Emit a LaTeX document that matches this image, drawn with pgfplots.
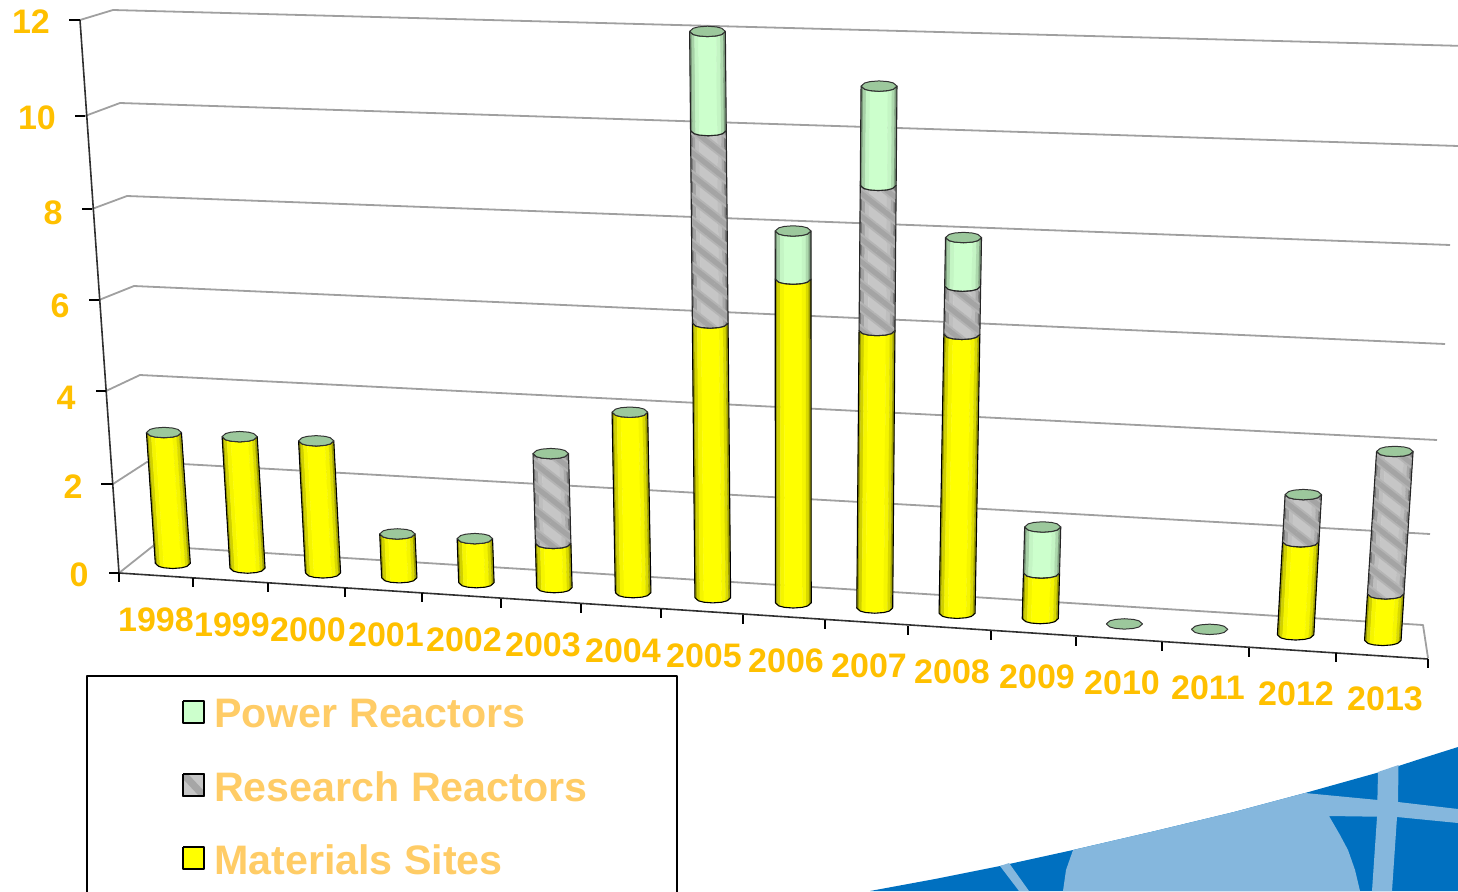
\documentclass[border=0pt]{standalone}
\usepackage{fontspec}
\setmainfont{Liberation Sans}
\usepackage{pgfplots}
\usepackage{pgfplotstable}
\pgfplotsset{compat=1.18}
\usetikzlibrary{patterns.meta}
\definecolor{lab}{HTML}{FFC000}
\definecolor{legt}{HTML}{FFCC66}
\definecolor{grd}{HTML}{A0A0A0}
\definecolor{axc}{HTML}{303030}
\definecolor{ymat}{HTML}{FFFF00}
\definecolor{gpow}{HTML}{CCFFCC}
\definecolor{rres}{HTML}{C6C6C6}
\definecolor{capc}{HTML}{9CC89C}
\definecolor{bluea}{HTML}{0070C0}
\definecolor{blueb}{HTML}{85B7DD}
\definecolor{hatcha}{HTML}{B4B4B4}
\definecolor{hatchb}{HTML}{A4A4A4}

% values per year: Materials Sites, Research Reactors, Power Reactors
\pgfplotstableread{
i year mat res pow
0 1998 3 0 0
1 1999 3 0 0
2 2000 3 0 0
3 2001 1 0 0
4 2002 1 0 0
5 2003 1 2 0
6 2004 4 0 0
7 2005 6 4 2
8 2006 7 0 1
9 2007 6 3 2
10 2008 6 1 1
11 2009 1 0 1
12 2010 0 0 0
13 2011 0 0 0
14 2012 2 1 0
15 2013 1 3 0
}\datatab

% strip corners
\pgfplotstableread{
a t
0 0
1 0
1 1
0 1
0 0
}\cornertab
% outline of one stacked segment (front arcs)
\pgfplotstableread{
s t e
-1 0 1
-0.8 0 1
-0.5 0 1
0 0 1
0.5 0 1
0.8 0 1
1 0 1
1 1 1
0.8 1 1
0.5 1 1
0 1 1
-0.5 1 1
-0.8 1 1
-1 1 1
-1 0 1
}\outlinetab
% top cap ellipse
\pgfplotstableread{
s t e
-1 1 1
-0.8 1 1
-0.5 1 1
0 1 1
0.5 1 1
0.8 1 1
1 1 1
0.8 1 -1
0.5 1 -1
0 1 -1
-0.5 1 -1
-0.8 1 -1
-1 1 -1
}\captab

\newcommand\strip[6]{%
 \addplot[fill=#6,draw=#6,line width=0.3pt,forget plot] table[
   x expr={bx(#1,#2+\thisrow{t}*(#3-#2))+hw(#1)*(#4+\thisrow{a}*(#5-#4))},
   y expr={by(#1,#2+\thisrow{t}*(#3-#2))+dip(#4+\thisrow{a}*(#5-#4))}] {\cornertab};}
\newcommand\poly[5]{%
 \addplot[#5,forget plot] table[
   x expr={bx(#1,#2+\thisrow{t}*(#3-#2))+hw(#1)*\thisrow{s}},
   y expr={by(#1,#2+\thisrow{t}*(#3-#2))+\thisrow{e}*dip(\thisrow{s})}] {#4};}
\newcommand\seg[4]{%
 \strip{#1}{#2}{#3}{-1}{-0.88}{#4!60!black}%
 \strip{#1}{#2}{#3}{-0.88}{-0.72}{#4!82!black}%
 \strip{#1}{#2}{#3}{-0.72}{-0.5}{#4!96!black}%
 \strip{#1}{#2}{#3}{-0.5}{0.5}{#4}%
 \strip{#1}{#2}{#3}{0.5}{0.72}{#4!96!black}%
 \strip{#1}{#2}{#3}{0.72}{0.88}{#4!85!black}%
 \strip{#1}{#2}{#3}{0.88}{1}{#4!62!black}%
}
\newcommand\drawbar[1]{%
 \pgfplotstablegetelem{#1}{mat}\of\datatab\let\vm\pgfplotsretval
 \pgfplotstablegetelem{#1}{res}\of\datatab\let\vr\pgfplotsretval
 \pgfplotstablegetelem{#1}{pow}\of\datatab\let\vp\pgfplotsretval
 \pgfmathsetmacro\va{\vm}\pgfmathsetmacro\vb{\vm+\vr}\pgfmathsetmacro\vc{\vm+\vr+\vp}%
 \ifdim\vm pt>0pt
  \edef\tmp{\noexpand\seg{#1}{0}{\va}{ymat}}\tmp
  \edef\tmp{\noexpand\poly{#1}{0}{\va}{\noexpand\outlinetab}{draw=black,line width=1.1pt}}\tmp
 \fi
 \ifdim\vr pt>0pt
  \edef\tmp{\noexpand\seg{#1}{\va}{\vb}{rres}}\tmp
  \edef\tmp{\noexpand\poly{#1}{\va}{\vb}{\noexpand\outlinetab}{draw=none,pattern={Lines[angle=-38,distance=18pt,line width=9pt]},pattern color=hatcha}}\tmp
  \edef\tmp{\noexpand\poly{#1}{\va}{\vb}{\noexpand\outlinetab}{draw=none,pattern={Lines[angle=-38,distance=18pt,line width=5pt]},pattern color=hatchb}}\tmp
  \edef\tmp{\noexpand\poly{#1}{\va}{\vb}{\noexpand\outlinetab}{draw=black!85,line width=1.1pt}}\tmp
 \fi
 \ifdim\vp pt>0pt
  \edef\tmp{\noexpand\seg{#1}{\vb}{\vc}{gpow}}\tmp
  \edef\tmp{\noexpand\poly{#1}{\vb}{\vc}{\noexpand\outlinetab}{draw=black!85,line width=1.1pt}}\tmp
 \fi
 \edef\tmp{\noexpand\poly{#1}{0}{\vc}{\noexpand\captab}{fill=capc,draw=black!80,line width=1pt}}\tmp
}

\begin{document}
\begin{tikzpicture}[x=1pt,y=1pt]
\useasboundingbox (0,0) rectangle (1458pt,891pt);
\begin{axis}[
  at={(0,0)},anchor=south west,
  width=1458pt,height=891pt,scale only axis,
  xmin=0,xmax=1458,ymin=0,ymax=891,y dir=reverse,
  axis lines=none,clip=true,
  declare function={
    dn(\a,\b)=1-0.00526*\a-0.00465*\b;
    bx(\a,\b)=(73.39*\a+172.8-3.715*\b)/dn(\a,\b);
    by(\a,\b)=(1.77*\a+563.3-45.6*\b)/dn(\a,\b);
    hw(\a)=17.5+0.05*\a;
    dip(\c)=5.2*sqrt(max(0,1-\c*\c));
  },
  every axis plot/.append style={line join=round},
]
% background decoration
\addplot[fill=bluea,draw=none,forget plot] coordinates {(870,891)(935,879)(1000,866)(1073,850)(1155,831)(1234,812)(1305,793)(1380,772)(1420,759)(1458,747)(1458,891)(870,891)};
% disk with the band reaching from it to the right edge
\addplot[fill=blueb,draw=none,forget plot] coordinates {(1073,850)(1155,831)(1234,812)(1305,793)(1378,800)(1398,802)(1458,809)(1458,823)(1397,817)(1329,816)(1340,835)(1348,850)(1355,870)(1360,891)(1063,891)(1066,870)};
% vertical band
\addplot[fill=blueb,draw=none,forget plot] coordinates {(1378,772)(1398.5,765)(1398,802)(1397,817)(1392,891)(1372,891)(1377,817)};
% small diagonal band
\addplot[fill=blueb,draw=none,forget plot] coordinates {(1000,866)(1009,863)(1029,891)(1019,891)};
% wall gridlines
\addplot[draw=grd,line width=1.8pt,forget plot] coordinates {(80,20)(113,10)(1465,46)};
\addplot[draw=grd,line width=1.8pt,forget plot] coordinates {(85,116)(120,103)(1458,146)};
\addplot[draw=grd,line width=1.8pt,forget plot] coordinates {(92,209)(127,196)(1450,245)};
\addplot[draw=grd,line width=1.8pt,forget plot] coordinates {(99,300)(134,286)(1445,344)};
\addplot[draw=grd,line width=1.8pt,forget plot] coordinates {(106,391)(140,375)(1437,440)};
\addplot[draw=grd,line width=1.8pt,forget plot] coordinates {(113,484)(147,462)(1430,534)};
\addplot[draw=grd,line width=1.8pt,forget plot] coordinates {(119,573)(153,546)(1423,625)(1428,658)};
% axes and ticks
\addplot[draw=axc,line width=1.6pt,forget plot] coordinates {(80,20)(119,573)(1428,659)};
\addplot[draw=black,line width=1.6pt,forget plot] coordinates {(69,20)(80,20)};
\addplot[draw=black,line width=1.6pt,forget plot] coordinates {(75,116)(85,116)};
\addplot[draw=black,line width=1.6pt,forget plot] coordinates {(82,209)(92,209)};
\addplot[draw=black,line width=1.6pt,forget plot] coordinates {(89,300)(99,300)};
\addplot[draw=black,line width=1.6pt,forget plot] coordinates {(96,391)(106,391)};
\addplot[draw=black,line width=1.6pt,forget plot] coordinates {(101,484)(113,484)};
\addplot[draw=black,line width=1.6pt,forget plot] coordinates {(109,573)(119,573)};
\addplot[draw=black,line width=1.6pt,forget plot] coordinates {(119,573)(119,582)};
\addplot[draw=black,line width=1.6pt,forget plot] coordinates {(193,578)(193,587)};
\addplot[draw=black,line width=1.6pt,forget plot] coordinates {(268,583)(268,592)};
\addplot[draw=black,line width=1.6pt,forget plot] coordinates {(345,588)(345,597)};
\addplot[draw=black,line width=1.6pt,forget plot] coordinates {(422,593)(422,602)};
\addplot[draw=black,line width=1.6pt,forget plot] coordinates {(501,599)(501,608)};
\addplot[draw=black,line width=1.6pt,forget plot] coordinates {(581,604)(581,613)};
\addplot[draw=black,line width=1.6pt,forget plot] coordinates {(661,609)(661,618)};
\addplot[draw=black,line width=1.6pt,forget plot] coordinates {(743,615)(743,624)};
\addplot[draw=black,line width=1.6pt,forget plot] coordinates {(825,620)(825,629)};
\addplot[draw=black,line width=1.6pt,forget plot] coordinates {(908,626)(908,635)};
\addplot[draw=black,line width=1.6pt,forget plot] coordinates {(991,631)(991,640)};
\addplot[draw=black,line width=1.6pt,forget plot] coordinates {(1076,637)(1076,646)};
\addplot[draw=black,line width=1.6pt,forget plot] coordinates {(1162,642)(1162,651)};
\addplot[draw=black,line width=1.6pt,forget plot] coordinates {(1249,648)(1249,657)};
\addplot[draw=black,line width=1.6pt,forget plot] coordinates {(1336,653)(1336,662)};
\addplot[draw=black,line width=1.6pt,forget plot] coordinates {(1428,659)(1428,668)};
% bars
\pgfplotsinvokeforeach{0,1,2,3,4,5,6,7,8,9,10,11,12,13,14,15}{\drawbar{#1}}
% legend
\addplot[draw=black,line width=1.8pt,forget plot] coordinates {(87,900)(87,676)(677,676)(677,900)};
\addplot[fill=gpow,draw=black,line width=1.5pt,forget plot] coordinates {(183,701)(204,701)(204,723)(183,723)(183,701)};
\addplot[fill=rres,draw=black,line width=1.5pt,forget plot] coordinates {(183,774)(204,774)(204,796)(183,796)(183,774)};
\addplot[fill=black!35,draw=none,forget plot] coordinates {(184,775)(189,775)(204,791)(204,796)(199,796)(184,780)};
\addplot[draw=black,line width=1.5pt,forget plot] coordinates {(183,774)(204,774)(204,796)(183,796)(183,774)};
\addplot[fill=ymat,draw=black,line width=1.5pt,forget plot] coordinates {(183,847)(204,847)(204,869)(183,869)(183,847)};
\end{axis}
% text (pt coordinates, origin bottom-left)
\begin{scope}[every node/.style={inner sep=0pt,font=\fontsize{34}{36}\selectfont\bfseries,text=lab}]
\node at (31pt,869pt) {12};
\node at (37pt,773pt) {10};
\node at (53pt,678pt) {8};
\node at (60pt,585pt) {6};
\node at (66pt,493pt) {4};
\node at (73pt,404pt) {2};
\node at (79pt,316pt) {0};
\node at (156pt,271pt) {1998};
\node at (232pt,266pt) {1999};
\node at (308pt,261pt) {2000};
\node at (386pt,256pt) {2001};
\node at (464pt,251pt) {2002};
\node at (543pt,246pt) {2003};
\node at (623pt,240pt) {2004};
\node at (704pt,235pt) {2005};
\node at (786pt,230pt) {2006};
\node at (869pt,225pt) {2007};
\node at (952pt,219pt) {2008};
\node at (1037pt,214pt) {2009};
\node at (1122pt,208pt) {2010};
\node at (1208pt,203pt) {2011};
\node at (1296pt,197pt) {2012};
\node at (1385pt,192pt) {2013};
\end{scope}
\begin{scope}[every node/.style={inner sep=0pt,anchor=west,font=\fontsize{41.2}{44}\selectfont\bfseries,text=legt}]
\node at (214pt,177pt) {Power Reactors};
\node at (214pt,104pt) {Research Reactors};
\node at (214pt,31pt) {Materials Sites};
\end{scope}
\end{tikzpicture}
\end{document}
